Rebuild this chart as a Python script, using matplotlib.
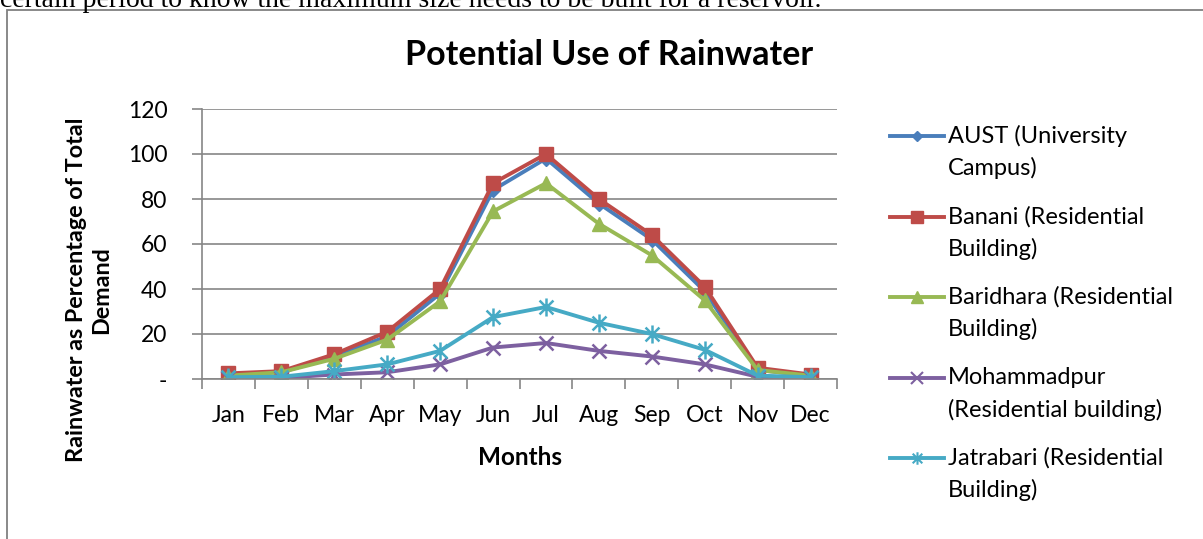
import numpy as np
import matplotlib
matplotlib.use("Agg")
import matplotlib.pyplot as plt
from matplotlib.patches import Rectangle
from matplotlib.lines import Line2D
from matplotlib.path import Path

months = ["Jan", "Feb", "Mar", "Apr", "May", "Jun", "Jul", "Aug", "Sep", "Oct", "Nov", "Dec"]
aust = [2, 3, 10, 19, 38, 84, 98, 78, 62, 39, 4, 1.5]
banani = [2.5, 3.5, 11, 21, 40, 87, 100, 80, 64, 41, 5, 2]
baridhara = [1.5, 3, 9, 17.5, 34.5, 74.5, 87, 69, 55, 35, 4, 1.5]
mohammadpur = [0.5, 0.5, 2, 3, 6.5, 14, 16, 12.5, 10, 6.5, 1, 0.5]
jatrabari = [0.8, 1, 3.5, 6.5, 12.5, 27.5, 32, 25, 20, 13, 1.5, 0.8]
yticks = [0, 20, 40, 60, 80, 100, 120]
ytick_labels = ["-", "20", "40", "60", "80", "100", "120"]

plt.rcParams['font.family'] = ['Lato', 'DejaVu Sans']

# excel style star: an x with a vertical bar
star = Path([(-1, -1), (1, 1), (-1, 1), (1, -1), (0, -1.3), (0, 1.3)],
            [Path.MOVETO, Path.LINETO, Path.MOVETO, Path.LINETO, Path.MOVETO, Path.LINETO])

W, H = 1203, 539
fig = plt.figure(figsize=(W/100, H/100), dpi=100)

# chart frame and the cut text line above it
fig.patches.append(Rectangle((7/W, -0.01), 1.2, 1 - 10/H + 0.01, transform=fig.transFigure,
                             fill=False, edgecolor="#808080", linewidth=1.3))
fig.text(0.0, 1 - 7/H, "certain period to know the maximum size needs to be built for a reservoir.",
         family="Liberation Serif", fontsize=20, va="baseline", ha="left")

ax = fig.add_axes([202/W, 1 - 379/H, (837 - 202)/W, (379 - 109)/H])
x = np.arange(len(months))

series = [
    ("AUST (University\nCampus)", aust, "#4A7EBB", "D", 7, 5),
    ("Banani (Residential\nBuilding)", banani, "#BE4B48", "s", 10, 9),
    ("Baridhara (Residential\nBuilding)", baridhara, "#98B954", "^", 10, 8),
    ("Mohammadpur\n(Residential building)", mohammadpur, "#7D60A0", "x", 10, 8),
    ("Jatrabari (Residential\nBuilding)", jatrabari, "#46AAC5", star, 13, 9),
]
for label, vals, c, m, ms, lms in series:
    thin = m is star or m == "x"
    ax.plot(x, vals, color=c, marker=m, markersize=ms, linewidth=2.8, label=label,
            markeredgewidth=1.8 if thin else 1, markeredgecolor=c)

ax.set_xlim(-0.5, 11.5)
ax.set_ylim(0, 120)
ax.set_yticks(yticks)
ax.set_yticklabels(ytick_labels)
ax.set_xticks(x)
ax.set_xticklabels(months)
ax.set_xticks(np.arange(-0.5, 12, 1), minor=True)
ax.tick_params(axis="x", which="major", length=0, pad=19, labelsize=16.5)
ax.tick_params(axis="x", which="minor", length=7, color="#868686", width=1.2)
ax.tick_params(axis="y", length=7, color="#868686", width=1.2, pad=18, labelsize=16.5)
ax.grid(axis="y", color="#868686", linewidth=1.2)
ax.set_axisbelow(True)
for s in ["top", "right"]:
    ax.spines[s].set_visible(False)
for s in ["left", "bottom"]:
    ax.spines[s].set_color("#868686")
    ax.spines[s].set_linewidth(1.2)

ax.set_xlabel("Months", fontsize=17.5, fontweight="bold", labelpad=14)
ax.set_ylabel("Rainwater as Percentage of Total\nDemand", fontsize=16.8, fontweight="bold",
              linespacing=1.25)
ax.yaxis.set_label_coords((112 - 202) / 635, (379 - 290) / 270)
fig.text(609/W, 1 - 55/H, "Potential Use of Rainwater", fontsize=24.5, fontweight="bold",
         ha="center", va="center")

# legend drawn by hand: handle sits on the first text line, Excel style
for i, (label, vals, c, m, ms, lms) in enumerate(series):
    yy = 1 - (136 + 80.5 * i) / H
    fig.add_artist(Line2D([890/W, 944/W], [yy, yy], transform=fig.transFigure, color=c, linewidth=2.8))
    thin = m is star or m == "x"
    fig.add_artist(Line2D([917/W], [yy], transform=fig.transFigure, color=c, marker=m, markersize=lms,
                          markeredgewidth=1.5 if thin else 1, markeredgecolor=c))
    for j, line in enumerate(label.split("\n")):
        fig.text(948/W, yy - j * 32/H, line, fontsize=17, ha="left", va="center")

fig.savefig("out.png", dpi=100)
